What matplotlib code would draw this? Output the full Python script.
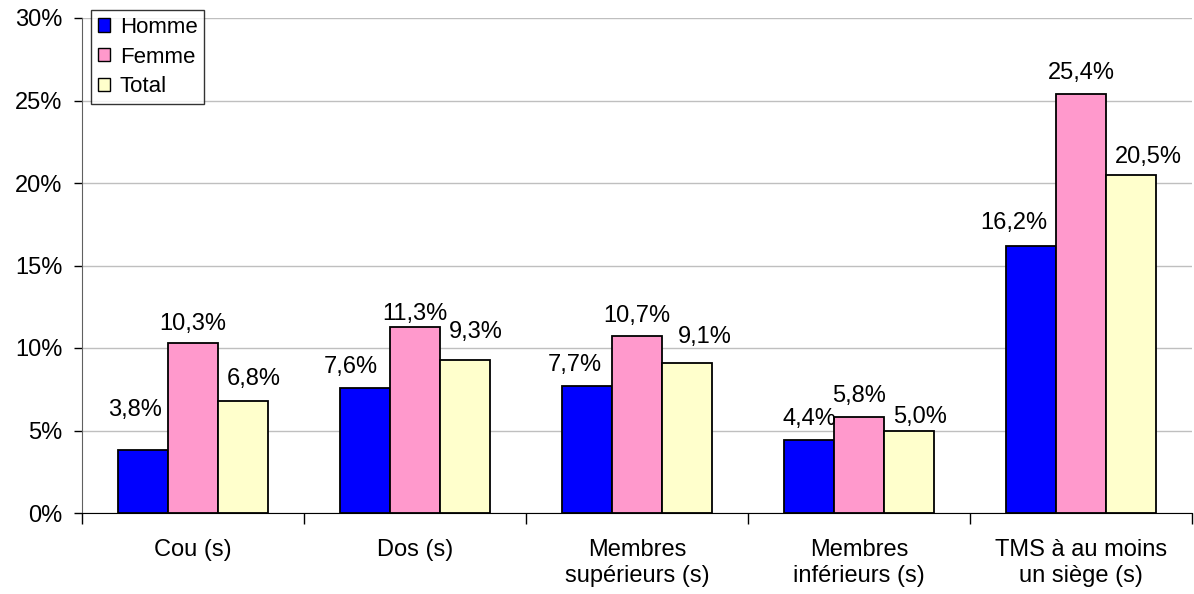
import matplotlib
matplotlib.use("Agg")
import matplotlib.pyplot as plt
import numpy as np
from matplotlib.patches import Patch

plt.rcParams['font.family'] = ['Liberation Sans', 'DejaVu Sans']

categories = ["Cou (s)", "Dos (s)", "Membres\nsupérieurs (s)", "Membres\ninférieurs (s)", "TMS à au moins\nun siège (s)"]
homme = [3.8, 7.6, 7.7, 4.4, 16.2]
femme = [10.3, 11.3, 10.7, 5.8, 25.4]
total = [6.8, 9.3, 9.1, 5.0, 20.5]
series_names = ["Homme", "Femme", "Total"]
colors = ["#0000FF", "#FF99CC", "#FFFFCC"]

# label placement offsets in pixels (style only)
label_dx = [[-8, -14, -12, 0, -17], [0, 0, 0, 0, 0], [11, 11, 18, 11, 18]]
label_dy = [[34, 15, 15, 15, 17], [13, 7, 14, 15, 15], [16, 22, 20, 8, 12]]

fig = plt.figure(figsize=(11.94, 5.94), dpi=100)
ax = fig.add_axes([82/1194, 1-513/594, 1110/1194, (513-18)/594])

px = 72 / 100.0
x = np.arange(len(categories))
w = 0.224
for i, (vals, c, name) in enumerate(zip([homme, femme, total], colors, series_names)):
    pos = x + (i - 1) * w
    ax.bar(pos, vals, width=w, color=c, edgecolor='black', linewidth=1.3, zorder=3)
    for j, (p, v) in enumerate(zip(pos, vals)):
        ax.annotate(f"{v:.1f}%".replace('.', ','), (p, v),
                    xytext=(label_dx[i][j] * px, label_dy[i][j] * px),
                    textcoords='offset points', ha='center', va='baseline', fontsize=17,
                    zorder=5)

ax.set_xlim(-0.5, len(categories) - 0.5)
ax.set_ylim(0, 30)
ax.set_yticks(np.arange(0, 31, 5))
ax.set_yticklabels([f"{t}%" for t in range(0, 31, 5)], fontsize=17)
ax.set_xticks(np.arange(-0.5, len(categories) + 0.5, 1))
ax.set_xticklabels([])
ax.set_xticks(x, minor=True)
ax.set_xticklabels(categories, minor=True, fontsize=17)
ax.tick_params(axis='x', which='minor', length=0, pad=19)
ax.tick_params(axis='x', which='major', length=8, direction='out', width=1)
ax.tick_params(axis='y', length=6, direction='out', width=1, pad=8)
ax.yaxis.grid(True, color='#BFBFBF', linewidth=1, zorder=0)
for s in ['top', 'right']:
    ax.spines[s].set_visible(False)
ax.spines['left'].set_color('#606060')
ax.spines['bottom'].set_color('black')

handles = [Patch(facecolor=c, edgecolor='black', label=n) for c, n in zip(colors, series_names)]
leg = ax.legend(handles=handles, loc='upper left', bbox_to_anchor=(9/1110, 1 + 8/495), fontsize=16,
                frameon=True, fancybox=False, edgecolor='black', handlelength=0.55, handleheight=0.55,
                handletextpad=0.45, borderpad=0.3, labelspacing=0.4, borderaxespad=0)
leg.get_frame().set_linewidth(1)

fig.savefig("out.png", dpi=100)
